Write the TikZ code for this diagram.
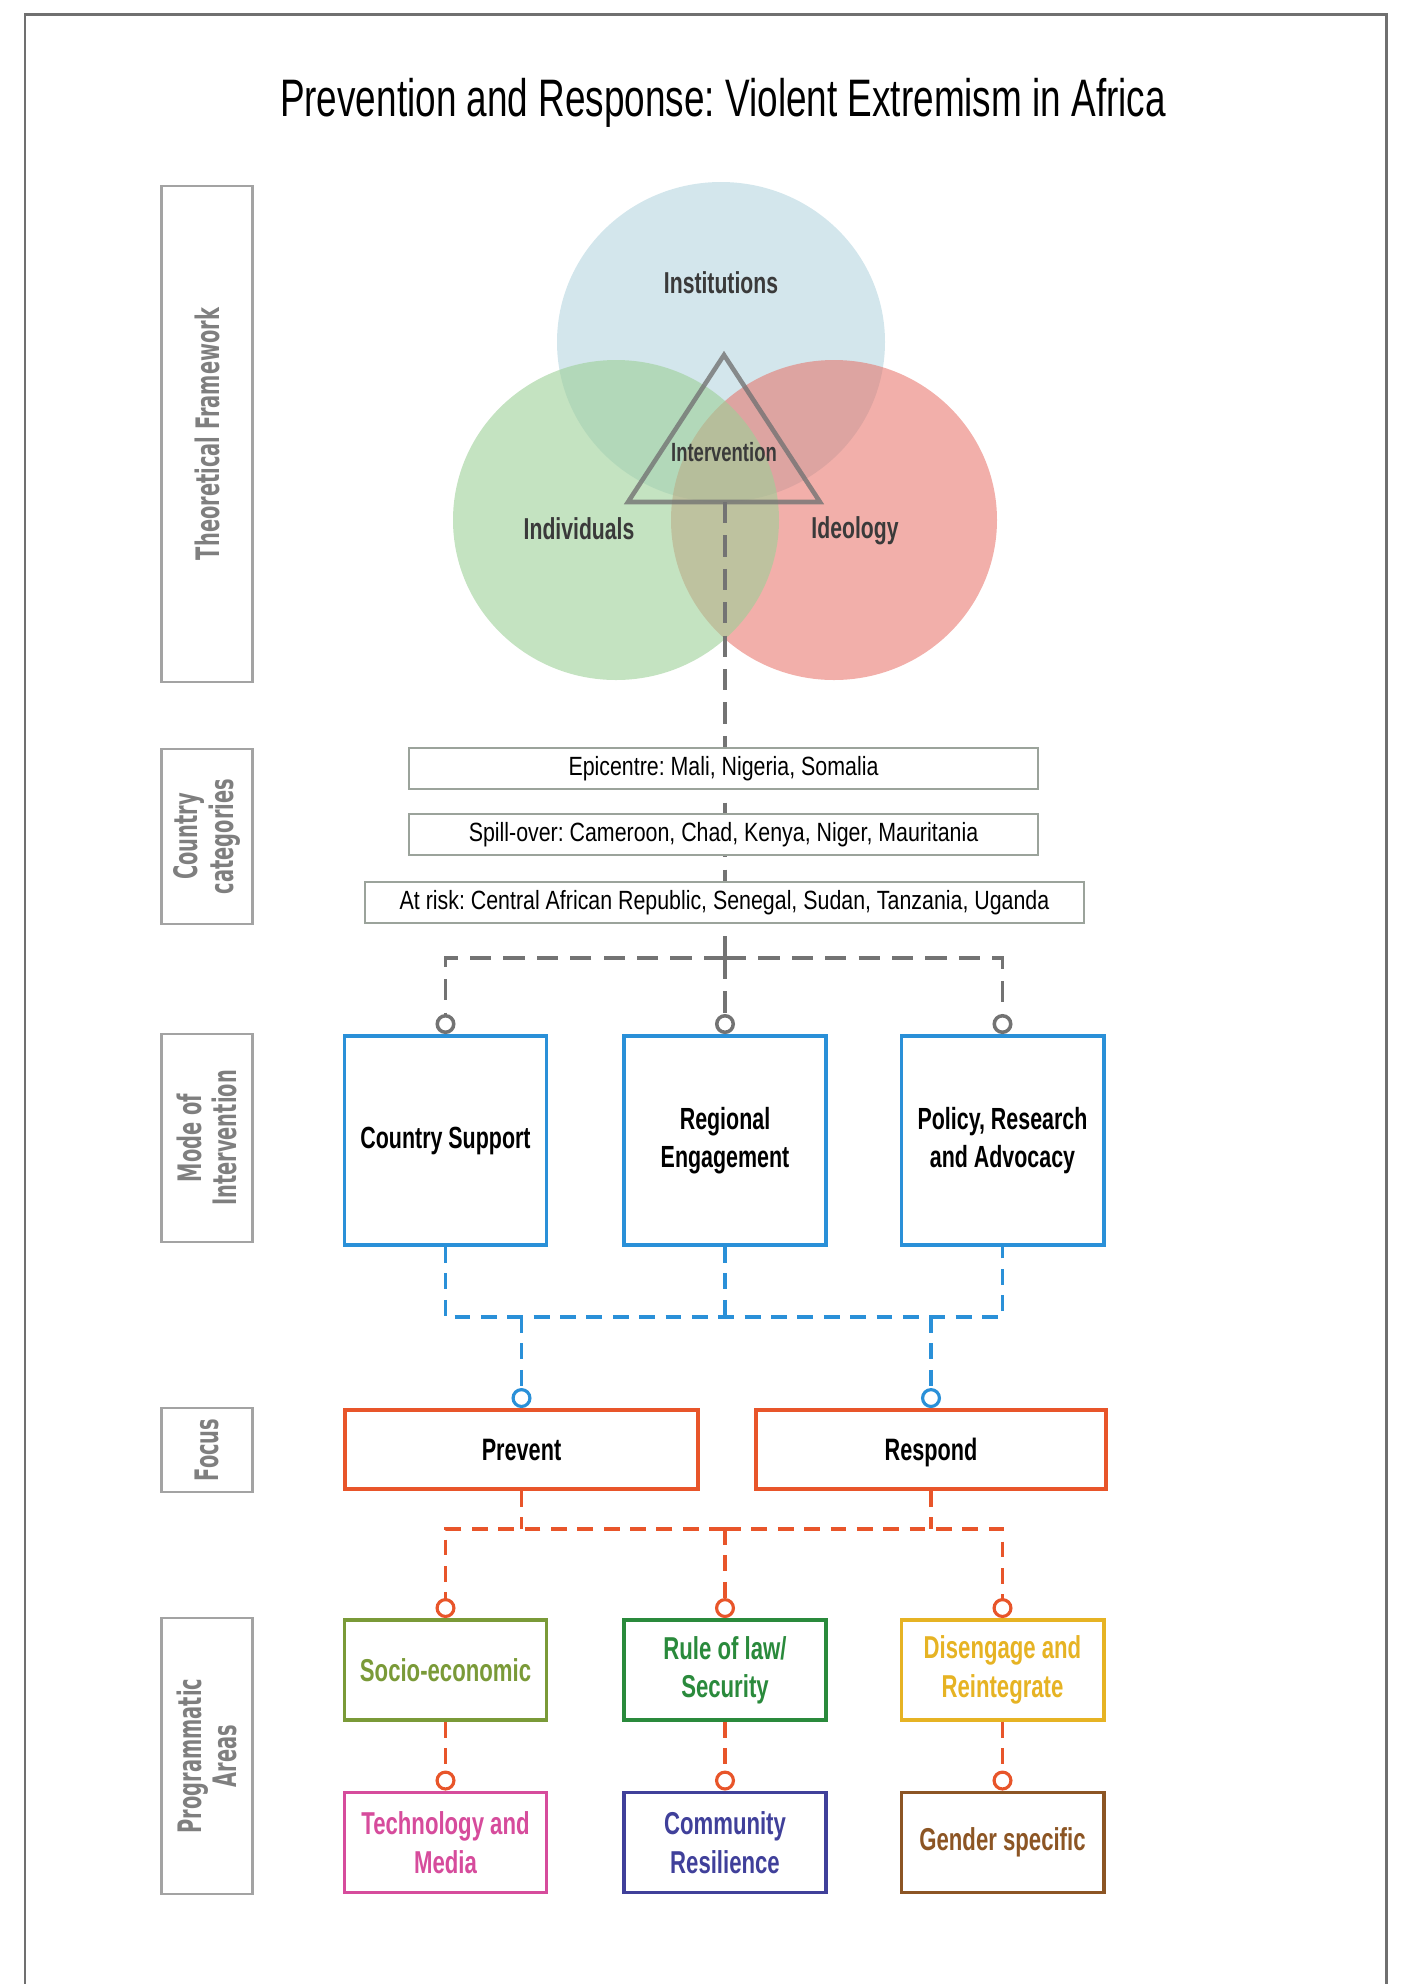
\documentclass[tikz,border=0pt]{standalone}
\usepackage{fontspec}
\setmainfont{Liberation Sans}
\newfontfamily\condfont{Liberation Sans}[FakeStretch=0.7]
\newfontfamily\listfont{Liberation Sans}[FakeStretch=0.81]
\newfontfamily\sidefont{DejaVu Sans}[FakeStretch=0.6]
\usepackage{tikz}
\usetikzlibrary{positioning,calc}
\usetikzlibrary{arrows.meta}
\definecolor{frameGray}{HTML}{707070}
\definecolor{sideGray}{HTML}{A3A3A3}
\definecolor{sideText}{HTML}{7F7F7F}
\definecolor{instBlue}{HTML}{D3E6EC}
\definecolor{ideoRed}{HTML}{E76E64}
\definecolor{indivGreen}{HTML}{9DD098}
\definecolor{vennText}{HTML}{3A3A3A}
\definecolor{listGray}{HTML}{9BA39B}
\definecolor{modeBlue}{HTML}{2A90D8}
\definecolor{focusRed}{HTML}{E8552A}
\definecolor{socioGreen}{HTML}{7A9A38}
\definecolor{lawGreen}{HTML}{2A8A3C}
\definecolor{disGold}{HTML}{E6B324}
\definecolor{techPink}{HTML}{D64C9C}
\definecolor{commBlue}{HTML}{40409A}
\definecolor{genBrown}{HTML}{8C5524}
\tikzset{
	side/.style={draw=sideGray,line width=0.6pt,rotate=90,minimum height=0.91cm,inner sep=0pt,align=center,text=sideText,font=\sidefont\bfseries\fontsize{9.2}{10}\selectfont},
	venn/.style={text=vennText,font=\condfont\bfseries\fontsize{8.6}{10}\selectfont},
	lst/.style={draw=listGray,line width=0.5pt,fill=white,minimum height=0.41cm,inner sep=0pt,font=\listfont\fontsize{7.5}{9}\selectfont},
	modebox/.style={draw=modeBlue,line width=1.1pt,fill=white,minimum width=2.02cm,minimum height=2.09cm,inner sep=0pt,align=center,font=\condfont\bfseries\fontsize{8.7}{10.9}\selectfont},
	focusbox/.style={draw=focusRed,line width=1.1pt,minimum height=0.79cm,inner sep=0pt,text height=1.6ex,text depth=0.4ex,font=\condfont\bfseries\fontsize{8.8}{10}\selectfont},
	prog/.style={draw=#1,text=#1,line width=1.1pt,minimum width=2.02cm,minimum height=1.0cm,inner sep=0pt,align=center,font=\condfont\bfseries\fontsize{9}{10.9}\selectfont},
	gdash/.style={draw=black!55,line width=1pt,dash pattern=on 6pt off 3.5pt},
	bdash/.style={draw=modeBlue,line width=0.9pt,dash pattern=on 4.5pt off 3pt},
	odash/.style={draw=focusRed,line width=0.9pt,dash pattern=on 4.5pt off 3pt},
	lolli/.style={-{Circle[open,length=2mm,width=2mm]}}
}

\begin{document}
\frenchspacing
\begin{tikzpicture}[x=0.01cm,y=-0.01cm]
	\useasboundingbox (0,0) rectangle (1404,1984);
	%Cadre
	\draw[frameGray,line width=0.85pt] (25,1984) -- (25,14) -- (1386,14) -- (1386,1984);
	\node[anchor=base,font=\condfont\fontsize{15}{18}\selectfont] (ttl) at (723,116) {Prevention and Response: Violent Extremism in Africa};
	
	%Side labels
	\node[side,minimum width=4.96cm] (th) at (207,434) {Theoretical Framework};
	\node[side,minimum width=1.75cm] (cc) at (207,836.5) {Country\\categories};
	\node[side,minimum width=2.08cm] (mi) at (207,1138) {Mode of\\Intervention};
	\node[side,minimum width=0.84cm] (fo) at (207,1450) {Focus};
	\node[side,minimum width=2.76cm] (pa) at (207,1756) {Programmatic\\Areas};
	
	%Venn
	\fill[instBlue] (721,342) ellipse[x radius=164,y radius=160];
	\fill[ideoRed,fill opacity=0.55] (834,520) ellipse[x radius=163,y radius=160];
	\fill[indivGreen,fill opacity=0.6] (616,520) ellipse[x radius=163,y radius=160];
	
	%Triangle
	\coordinate (T1) at (628,502);
	\coordinate (T2) at (820,502);
	\coordinate (T3) at (724,355);
	\draw[draw=black!55,draw opacity=0.8,line width=1.3pt] (T1) -- (T2) -- (T3) -- cycle;
	
	\node[venn] (inst) at (721,283) {Institutions};
	\node[venn] (indiv) at (579,529) {Individuals};
	\node[venn] (ideo) at (855,531) {Ideology};
	\node[venn,font=\condfont\bfseries\fontsize{7.5}{9}\selectfont] (interv) at (724,452) {Intervention};
	
	%Spine
	\coordinate (trib) at (725,502);
	\coordinate (gh) at (725,958);
	\draw[gdash] (trib) -- (gh);
	
	%Country categories
	\node[lst,minimum width=6.29cm] (ep) at (723.5,768.5) {Epicentre: Mali, Nigeria, Somalia};
	\node[lst,minimum width=6.29cm] (sp) at (723.5,834.5) {Spill-over: Cameroon, Chad, Kenya, Niger, Mauritania};
	\node[lst,minimum width=7.19cm] (ar) at (724.5,902.5) {At risk: Central African Republic, Senegal, Sudan, Tanzania, Uganda};
	
	%Mode of intervention
	\node[modebox] (cs) at (445.5,1140.5) {Country Support};
	\node[modebox] (re) at (725,1140.5) {Regional\\Engagement};
	\node[modebox] (pra) at (1002.5,1140.5) {Policy, Research\\and Advocacy};
	
	\draw[gdash,lolli] (gh) -| (cs.north);
	\draw[gdash,lolli] (gh) -- (re.north);
	\draw[gdash,lolli] (gh) -| (pra.north);
	
	%Focus
	\node[focusbox,minimum width=3.53cm] (fp) at (521.5,1449.5) {Prevent};
	\node[focusbox,minimum width=3.5cm] (fr) at (931,1449.5) {Respond};
	
	\coordinate (bh) at (725,1317);
	\draw[bdash] (cs.south) |- (pra.south |- bh) -- (pra.south);
	\draw[bdash] (re.south) -- (re.south |- bh);
	\draw[bdash,lolli] (fp.north |- bh) -- (fp.north);
	\draw[bdash,lolli] (fr.north |- bh) -- (fr.north);
	
	%Programmatic areas
	\node[prog=socioGreen] (se) at (445.5,1670) {Socio-economic};
	\node[prog=lawGreen] (rl) at (725,1670) {Rule of law/\\Security};
	\node[prog=disGold] (dr) at (1002.5,1670) {Disengage and\\Reintegrate};
	\node[prog=techPink] (tm) at (445.5,1842.5) {Technology and\\Media};
	\node[prog=commBlue] (cr) at (725,1842.5) {Community\\Resilience};
	\node[prog=genBrown] (gs) at (1002.5,1842.5) {Gender specific};
	
	\coordinate (oh) at (725,1529);
	\draw[odash] (fp.south) -- (fp.south |- oh);
	\draw[odash] (fr.south) -- (fr.south |- oh);
	\draw[odash,lolli] (oh) -| (se.north);
	\draw[odash,lolli] (oh) -- (rl.north);
	\draw[odash,lolli] (oh) -| (dr.north);
	\foreach \a/\b in {se/tm,rl/cr,dr/gs}{
		\draw[odash,lolli] (\a.south) -- (\b.north);
	}
\end{tikzpicture}
\end{document}
